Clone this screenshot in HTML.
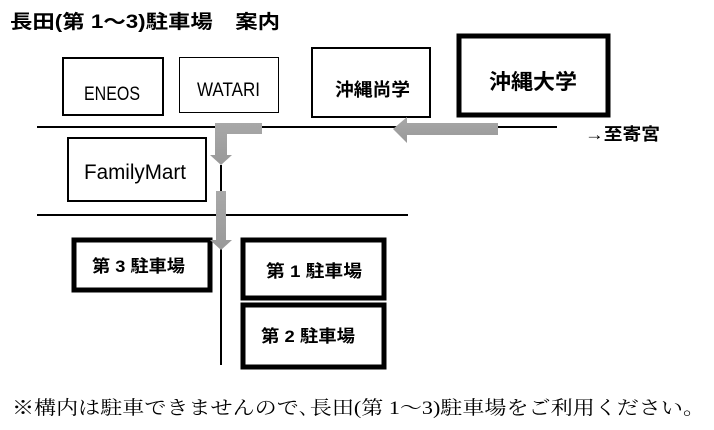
<!DOCTYPE html>
<html><head><meta charset="utf-8"><style>
html,body{margin:0;padding:0;background:#fff;width:714px;height:430px;overflow:hidden}
</style></head><body>
<svg width="714" height="430" xmlns="http://www.w3.org/2000/svg" font-family="'Liberation Sans','Noto Sans CJK JP',sans-serif">
<defs>
<linearGradient id="g" x1="0" x2="0" y1="0" y2="1"><stop offset="0" stop-color="#a8a8a8"/><stop offset="1" stop-color="#999"/></linearGradient>
</defs>
<text x="10" y="28" font-size="19" font-weight="bold" textLength="270" lengthAdjust="spacingAndGlyphs">長田(第 1～3)駐車場　案内</text>
<line x1="37" y1="127" x2="557" y2="127" stroke="#000" stroke-width="2"/>
<line x1="37" y1="215" x2="408" y2="215" stroke="#000" stroke-width="2"/>
<line x1="221" y1="165" x2="221" y2="365" stroke="#000" stroke-width="2"/>
<rect x="63" y="58" width="100" height="57" fill="#fff" stroke="#000" stroke-width="2"/>
<text x="84" y="100" font-size="19" textLength="56" lengthAdjust="spacingAndGlyphs">ENEOS</text>
<rect x="179.5" y="57.5" width="99" height="55" fill="#fff" stroke="#000" stroke-width="1"/>
<text x="197" y="96" font-size="19" textLength="63" lengthAdjust="spacingAndGlyphs">WATARI</text>
<rect x="312" y="48" width="118" height="69" fill="#fff" stroke="#000" stroke-width="2"/>
<text x="335" y="96" font-size="18" font-weight="bold" textLength="75" lengthAdjust="spacingAndGlyphs">沖縄尚学</text>
<rect x="459" y="36" width="149" height="79" fill="#fff" stroke="#000" stroke-width="5"/>
<text x="489" y="89" font-size="21" font-weight="bold" textLength="88" lengthAdjust="spacingAndGlyphs">沖縄大学</text>
<text x="585" y="140" font-size="17" font-weight="bold" textLength="75" lengthAdjust="spacingAndGlyphs">→至寄宮</text>
<rect x="68" y="138" width="138" height="63" fill="#fff" stroke="#000" stroke-width="2"/>
<text x="84" y="179" font-size="21" textLength="102" lengthAdjust="spacingAndGlyphs">FamilyMart</text>
<rect x="74" y="240" width="136" height="50" fill="#fff" stroke="#000" stroke-width="5"/>
<text x="92" y="272" font-size="17" font-weight="bold" textLength="93" lengthAdjust="spacingAndGlyphs">第 3 駐車場</text>
<rect x="243" y="240" width="141" height="58" fill="#fff" stroke="#000" stroke-width="5"/>
<text x="266" y="277" font-size="17" font-weight="bold" textLength="96" lengthAdjust="spacingAndGlyphs">第 1 駐車場</text>
<rect x="243" y="305" width="141" height="62" fill="#fff" stroke="#000" stroke-width="5"/>
<text x="261" y="342" font-size="17" font-weight="bold" textLength="94" lengthAdjust="spacingAndGlyphs">第 2 駐車場</text>
<polygon points="262,123 262,134 227,134 227,155 232,155 221,165 210,155 215,155 215,123" fill="url(#g)"/>
<polygon points="216,191 226,191 226,240 232,240 221,250 210,240 216,240" fill="url(#g)"/>
<polygon points="498,123 498,135 407,135 407,143 393,129 407,117 407,123" fill="url(#g)"/>
<text x="12" y="414" font-size="19" font-family="'Liberation Serif','Noto Serif CJK SC',serif" textLength="693" lengthAdjust="spacingAndGlyphs">※構内は駐車できませんので､長田(第 1～3)駐車場をご利用ください。</text>
</svg>
</body></html>
